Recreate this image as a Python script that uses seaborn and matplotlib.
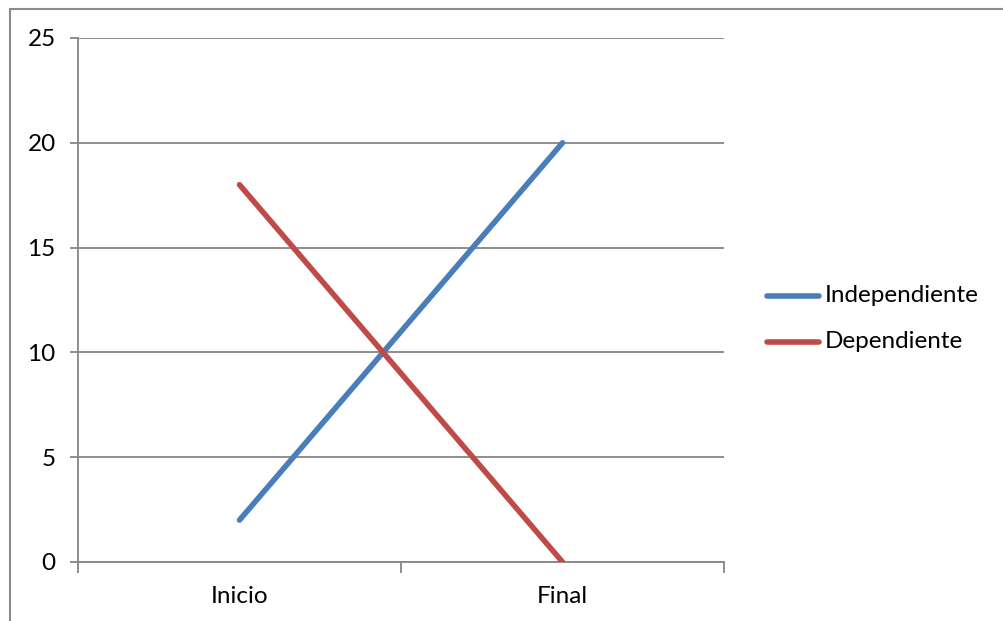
import matplotlib
matplotlib.use("Agg")
import matplotlib.pyplot as plt
import seaborn as sns
import pandas as pd
from matplotlib.patches import Rectangle
from matplotlib.ticker import FixedLocator, NullFormatter

categories = ["Inicio", "Final"]
independiente = [2, 20]
dependiente = [18, 0]
series_names = ["Independiente", "Dependiente"]
y_ticks = [0, 5, 10, 15, 20, 25]

sns.set_theme(style="white")
plt.rcParams["font.family"] = ["Lato", "DejaVu Sans"]

rows = []
for name, vals in zip(series_names, [independiente, dependiente]):
    for i, (cat, v) in enumerate(zip(categories, vals)):
        rows.append({"pos": i, "categoria": cat, "valor": v, "serie": name})
df = pd.DataFrame(rows)

W, H = 1004, 621
FS = 17.5
fig = plt.figure(figsize=(W / 100, H / 100), dpi=100)
ax = fig.add_axes([78 / W, 1 - 562 / H, (724 - 78) / W, (562 - 38) / H])

palette = {"Independiente": "#4A7EBB", "Dependiente": "#BE4B48"}
sns.lineplot(data=df, x="pos", y="valor", hue="serie", palette=palette,
             linewidth=4.0, ax=ax, legend=False, solid_capstyle="round",
             zorder=3)

grid_c = "#868686"
ax.set_xlim(-0.5, 1.5)
ax.set_ylim(0, 25)
ax.set_yticks(y_ticks)
ax.set_yticklabels([str(t) for t in y_ticks])
ax.yaxis.grid(True, color=grid_c, linewidth=1.3)
ax.set_axisbelow(True)

ax.set_xticks([0, 1])
ax.set_xticklabels(categories)
ax.tick_params(axis="x", which="major", length=0, pad=17, labelsize=FS, colors="black")
ax.xaxis.set_minor_locator(FixedLocator([-0.5, 0.5, 1.5]))
ax.xaxis.set_minor_formatter(NullFormatter())
ax.tick_params(axis="x", which="minor", bottom=True, length=8, width=1.3, color=grid_c)
ax.tick_params(axis="y", left=True, length=6, width=1.3, color=grid_c, pad=10,
               labelsize=FS, labelcolor="black")
ax.set_xlabel("")
ax.set_ylabel("")

for side in ["top", "right"]:
    ax.spines[side].set_visible(False)
for side in ["left", "bottom"]:
    ax.spines[side].set_color(grid_c)
    ax.spines[side].set_linewidth(1.3)

# Legend drawn in figure pixel coordinates
for name, ypx in zip(series_names, [296, 342]):
    yf = 1 - ypx / H
    fig.add_artist(plt.Line2D([767 / W, 819 / W], [yf, yf], color=palette[name],
                              linewidth=4.0, solid_capstyle="round",
                              transform=fig.transFigure))
    fig.text(825 / W, yf, name, fontsize=FS, va="center", ha="left", color="black")

# Chart-area border
fig.add_artist(Rectangle((10.5 / W, -0.2), 1.2, 1.2 - 8.5 / H, fill=False,
                         edgecolor="#8C8C8C", linewidth=1.5,
                         transform=fig.transFigure))

fig.savefig("out.png", dpi=100)
